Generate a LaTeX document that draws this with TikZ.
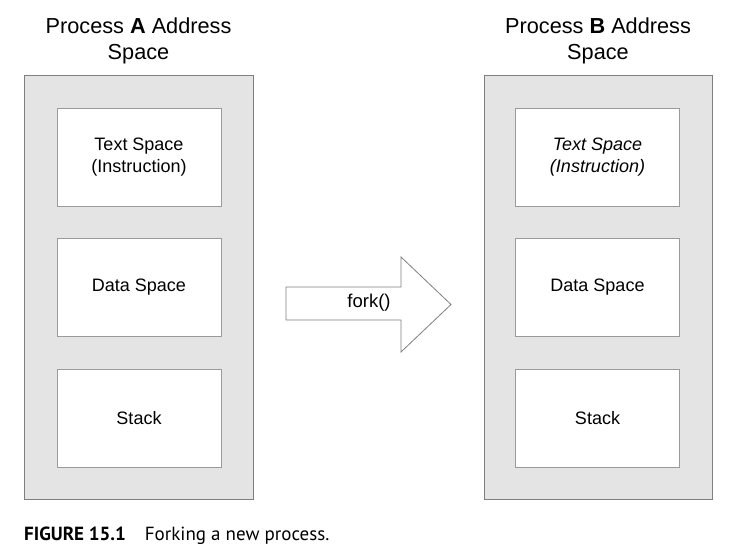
\documentclass[tikz,border=0pt]{standalone}
\usepackage{fontspec}
\setmainfont{Liberation Sans}
\newfontfamily\capfont{PT Sans}
\definecolor{contfill}{HTML}{E4E4E4}
\definecolor{contline}{HTML}{7F7F7F}
\definecolor{boxline}{HTML}{9A9A9A}
\begin{document}
\begin{tikzpicture}[x=1pt,y=-1pt,
  container/.style={draw=contline,fill=contfill,line width=0.9pt},
  membox/.style={draw=boxline,fill=white,line width=0.9pt,minimum width=164pt,minimum height=98pt,inner sep=0pt,align=center,font=\fontsize{18}{21.5}\selectfont},
  title/.style={align=center,font=\fontsize{21.7}{26}\selectfont},
  forkarrow/.style={draw=contline,fill=white,line width=0.8pt}]
\useasboundingbox (0,0) rectangle (741,554);
% containers
\draw[container] (24,75) rectangle (253,499);
\draw[container] (484,75) rectangle (712,499);
% titles
\node[title] (ta) at (138.5,41) {Process \textbf{A} Address\\Space};
\node[title] (tb) at (598,41) {Process \textbf{B} Address\\Space};
% left boxes
\node[membox] (a1) at (139,157) {Text Space\\(Instruction)};
\node[membox] (a2) at (139,287) {Data Space};
\node[membox] (a3) at (139,418) {Stack};
% right boxes
\node[membox] (b1) at (597.5,157) {\itshape Text Space\\\itshape (Instruction)};
\node[membox] (b2) at (597.5,287) {Data Space};
\node[membox] (b3) at (597.5,418) {Stack};
% fork arrow
\draw[forkarrow] (286,287) -- (401,287) -- (401,257) -- (451,304.5) -- (401,352) -- (401,320) -- (286,320) -- cycle;
\node[font=\fontsize{18.5}{21}\selectfont] (fk) at (369,303) {fork()};
% caption
\node[anchor=west,font=\capfont\fontsize{19}{22}\selectfont,inner sep=0pt] (cap) at (24,536) {\textbf{FIGURE 15.1}\hspace{19pt}Forking a new process.};
\end{tikzpicture}
\end{document}
